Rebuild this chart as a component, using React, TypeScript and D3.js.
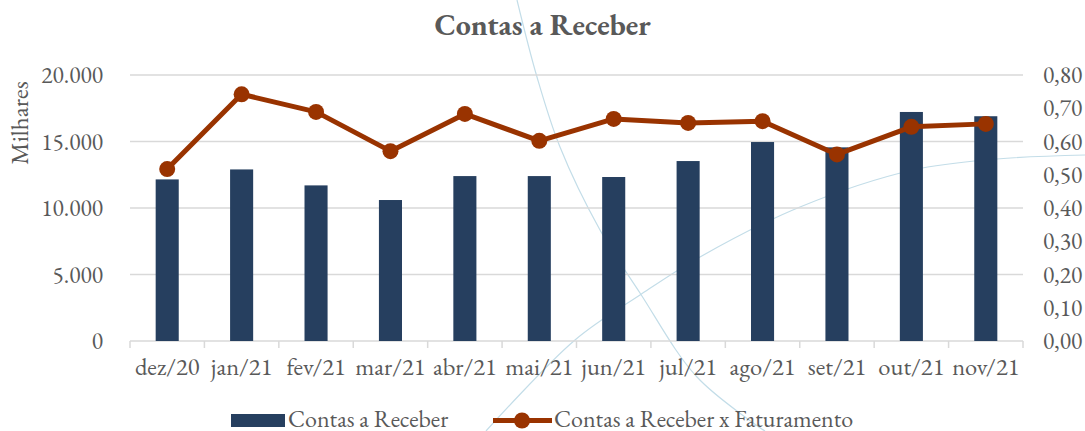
import React from 'react';
import * as d3 from 'd3';

const WIDTH = 1085;
const HEIGHT = 431;
const MARGIN = { top: 75, right: 62, bottom: 90, left: 130 };

const months = ['dez/20', 'jan/21', 'fev/21', 'mar/21', 'abr/21', 'mai/21', 'jun/21', 'jul/21', 'ago/21', 'set/21', 'out/21', 'nov/21'];
// Contas a Receber, em milhares
const receivables = [12150, 12900, 11700, 10600, 12400, 12400, 12330, 13530, 14960, 14560, 17220, 16900];
// Contas a Receber x Faturamento
const ratio = [0.517, 0.742, 0.689, 0.571, 0.683, 0.602, 0.668, 0.656, 0.661, 0.561, 0.644, 0.653];
const leftTicks = [0, 5000, 10000, 15000, 20000];
const rightTicks = [0, 0.1, 0.2, 0.3, 0.4, 0.5, 0.6, 0.7, 0.8];

// faint background arcs from the slide template (pixel space, not data)
const arcA: [number, number][] = [[517, 0], [537, 77], [560, 147], [600, 230], [640, 293], [697, 377], [765, 431]];
const arcB: [number, number][] = [[486, 431], [575, 340], [640, 295], [700, 257], [800, 207], [913, 170], [997, 159], [1085, 155]];

const FONT = '"EB Garamond", Garamond, "Liberation Serif", serif';
const TEXT = '#595959';
const GRID = '#d9d9d9';
const BAR = '#263f5f';
const LINE = '#993300';

const fmtLeft = (v: number) => (v === 0 ? '0' : d3.format(',')(v).replace(/,/g, '.'));
const fmtRight = (v: number) => v.toFixed(2).replace('.', ',');

export default function App() {
  const innerW = WIDTH - MARGIN.left - MARGIN.right;
  const innerH = HEIGHT - MARGIN.top - MARGIN.bottom;

  const x = d3.scaleBand().domain(months).range([0, innerW]);
  const yL = d3.scaleLinear().domain([0, 20000]).range([innerH, 0]);
  const yR = d3.scaleLinear().domain([0, 0.8]).range([innerH, 0]);
  const barW = x.bandwidth() * 0.31;
  const cx = (m: string) => (x(m) as number) + x.bandwidth() / 2;

  const linePath = d3.line<number>()
    .x((_, i) => cx(months[i]))
    .y((d) => yR(d))(ratio) as string;

  const arcLine = d3.line().curve(d3.curveCatmullRom.alpha(0.5));

  return (
    <svg width={WIDTH} height={HEIGHT} style={{ position: 'absolute', left: 0, top: 0, background: '#fff' }} fontFamily={FONT}>
      <g fill='none' stroke='#c3dde8' strokeWidth={1.2}>
        <path d={arcLine(arcA) as string} />
        <path d={arcLine(arcB) as string} />
      </g>

      <text x={WIDTH / 2} y={35} textAnchor='middle' fontSize={30} fontWeight='bold' fill={TEXT}>Contas a Receber</text>

      <g transform={`translate(${MARGIN.left},${MARGIN.top})`}>
        {leftTicks.map((t) => (
          <g key={t}>
            <line x1={0} x2={innerW} y1={yL(t)} y2={yL(t)} stroke={GRID} strokeWidth={1.5} />
            <text x={-27} y={yL(t)} dy='0.35em' textAnchor='end' fontSize={23.5} fill={TEXT}>{fmtLeft(t)}</text>
          </g>
        ))}
        {rightTicks.map((t) => (
          <text key={t} x={innerW + 20} y={yR(t)} dy='0.35em' textAnchor='start' fontSize={23.5} fill={TEXT}>{fmtRight(t)}</text>
        ))}
        {months.concat(['']).map((m, i) => {
          const xx = i < months.length ? (x(m) as number) : innerW;
          return <line key={i} x1={xx} x2={xx} y1={innerH} y2={innerH + 7} stroke={GRID} strokeWidth={1.5} />;
        })}
        {months.map((m) => (
          <text key={m} x={cx(m)} y={innerH + 34} textAnchor='middle' fontSize={24.5} fill={TEXT}>{m}</text>
        ))}

        {receivables.map((v, i) => (
          <rect key={i} x={cx(months[i]) - barW / 2} y={yL(v)} width={barW} height={innerH - yL(v)} fill={BAR} />
        ))}

        <path d={linePath} fill='none' stroke={LINE} strokeWidth={5} strokeLinejoin='round' />
        {ratio.map((v, i) => (
          <circle key={i} cx={cx(months[i])} cy={yR(v)} r={8} fill={LINE} />
        ))}
      </g>

      <text transform={`translate(28,123) rotate(-90)`} textAnchor='middle' fontSize={25} fill={TEXT}>Milhares</text>

      <g fontSize={24} fill={TEXT}>
        <rect x={231} y={414} width={54} height={13} fill={BAR} />
        <text x={288} y={426.5}>Contas a Receber</text>
        <line x1={493} x2={552} y1={420.5} y2={420.5} stroke={LINE} strokeWidth={5} />
        <circle cx={522} cy={420.5} r={8} fill={LINE} />
        <text x={554} y={426.5}>Contas a Receber x Faturamento</text>
      </g>
    </svg>
  );
}
